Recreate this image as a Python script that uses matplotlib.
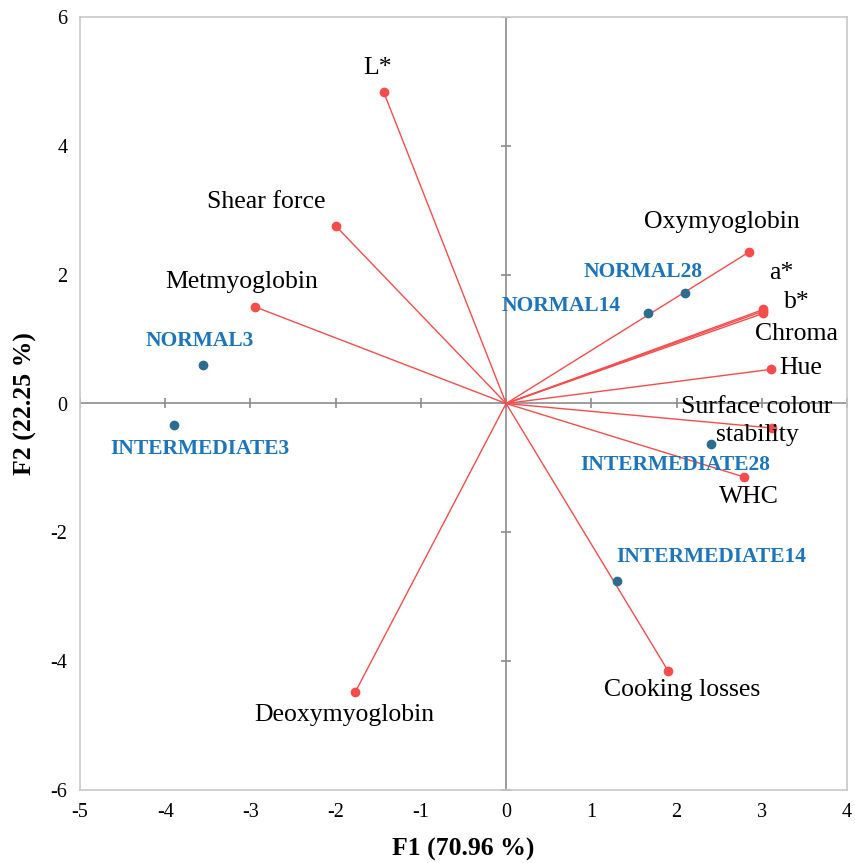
import numpy as np
import matplotlib
matplotlib.use("Agg")
import matplotlib.pyplot as plt

plt.rcParams['font.family'] = ['Liberation Serif', 'DejaVu Serif']
plt.rcParams['axes.unicode_minus'] = False

# Variables (loadings, scaled) - red vectors
var_names = ['L*', 'Shear force', 'Metmyoglobin', 'Oxymyoglobin', 'a*', 'b*', 'Chroma',
             'Hue', 'Surface colour\nstability', 'WHC', 'Cooking losses', 'Deoxymyoglobin']
var_f1 = [-1.435, -1.995, -2.946, 2.849, 3.02, 3.01, 3.02, 3.107, 3.12, 2.79, 1.90, -1.77]
var_f2 = [4.83, 2.75, 1.50, 2.35, 1.46, 1.43, 1.40, 0.53, -0.38, -1.14, -4.15, -4.48]

# Observations - blue points
obs_names = ['NORMAL3', 'INTERMEDIATE3', 'NORMAL14', 'NORMAL28', 'INTERMEDIATE28', 'INTERMEDIATE14']
obs_f1 = [-3.56, -3.90, 1.67, 2.10, 2.40, 1.30]
obs_f2 = [0.59, -0.34, 1.41, 1.72, -0.63, -2.75]

x_ticks = list(range(-5, 5))
y_ticks = list(range(-6, 7, 2))

# label offsets in pixels (dx, dy) relative to the point
var_offsets = [(-6, 24), (-70, 24), (-13, 25), (-27, 30), (18, 36), (34, 9), (33, -21),
               (30, 1), (-15, 7), (5, -20), (14, -19), (-11, -23)]
obs_offsets = [(-3, 24), (26, -24), (-87, 7), (-42, 21), (-35, -21), (94, 24)]

red = '#F84C4C'
dot_blue = '#2C6D8F'
lab_blue = '#1C75BC'
grey = '#8C8C8C'

fig = plt.figure(figsize=(8.55, 8.63), dpi=100)
ax = fig.add_axes([80 / 855, 73 / 863, 767 / 855, 773 / 863])

ax.set_xlim(-5, 4)
ax.set_ylim(-6, 6)

# zero axes with small cross ticks
ax.axhline(0, color=grey, lw=1.2, zorder=1)
ax.axvline(0, color=grey, lw=1.2, zorder=1)
ax.plot(x_ticks, np.zeros(len(x_ticks)), ls='none', marker='|', ms=7, mew=1.2, color=grey, zorder=1)
ax.plot(np.zeros(len(y_ticks)), y_ticks, ls='none', marker='_', ms=7, mew=1.2, color=grey, zorder=1)

for name, x, y, off in zip(var_names, var_f1, var_f2, var_offsets):
    ax.plot([0, x], [0, y], color=red, lw=1, zorder=2)
    ax.plot(x, y, 'o', color=red, ms=6, zorder=3)
    ax.annotate(name, (x, y), xytext=off, textcoords='offset pixels',
                ha='center', va='center', fontsize=18.5, color='black',
                multialignment='center', linespacing=1.3)

for name, x, y, off in zip(obs_names, obs_f1, obs_f2, obs_offsets):
    ax.plot(x, y, 'o', color=dot_blue, ms=6, zorder=3)
    ax.annotate(name, (x, y), xytext=off, textcoords='offset pixels',
                ha='center', va='center', fontsize=15.5, fontweight='bold', color=lab_blue)

ax.set_xticks(x_ticks)
ax.set_yticks(y_ticks)
ax.tick_params(length=0, labelsize=14.5, pad=9)
for s in ax.spines.values():
    s.set_color('#C8C8C8')
    s.set_linewidth(1.2)

ax.set_xlabel('F1 (70.96 %)', fontsize=18.5, fontweight='bold', labelpad=12)
ax.set_ylabel('F2 (22.25 %)', fontsize=18.5, fontweight='bold', labelpad=10)

fig.savefig('out.png', dpi=100)
